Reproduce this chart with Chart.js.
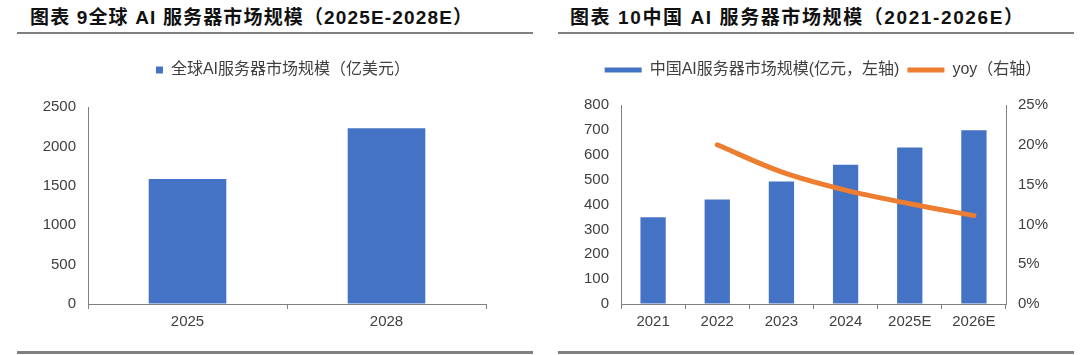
<!DOCTYPE html>
<html>
<head>
<meta charset="utf-8">
<script src="https://cdn.jsdelivr.net/npm/chart.js@4.4.0/dist/chart.umd.min.js"></script>
<style>
  html, body { margin:0; padding:0; background:#fff; width:1080px; height:355px; overflow:hidden; }
  .title { position:absolute; top:6px; font-family:"Liberation Sans","Noto Sans CJK SC",sans-serif; font-weight:bold; font-size:19px; letter-spacing:1.5px; color:#111; white-space:nowrap; line-height:24px; }
  .rule { position:absolute; background:#808080; }
  .box { position:absolute; top:45px; width:540px; height:300px; }
</style>
</head>
<body>
<div class="title" style="left:30px; letter-spacing:1.15px">图表 9全球 AI 服务器市场规模（2025E-2028E）</div>
<div class="title" style="left:570px; letter-spacing:1.6px">图表 10中国 AI 服务器市场规模（2021-2026E）</div>
<div class="rule" style="left:17px; width:516px; top:32px; height:2px"></div>
<div class="rule" style="left:558px; width:516px; top:32px; height:2px"></div>
<div class="rule" style="left:17px; width:516px; top:351px; height:3px"></div>
<div class="rule" style="left:558px; width:516px; top:351px; height:3px"></div>
<div class="box" style="left:0"><canvas id="c1" width="540" height="300"></canvas></div>
<div class="box" style="left:540px"><canvas id="c2" width="540" height="300"></canvas></div>
<script>
// ---- data ----
const globalYears = ["2025", "2028"];
const globalMarket = [1585, 2230];
const globalLabel = "全球AI服务器市场规模（亿美元）";

const chinaYears = ["2021", "2022", "2023", "2024", "2025E", "2026E"];
const chinaMarket = [349, 420, 492, 560, 629, 698];
const chinaYoy = [null, 20.0, 16.6, 14.3, 12.6, 11.1];
const chinaBarLabel = "中国AI服务器市场规模(亿元，左轴)";
const chinaLineLabel = "yoy（右轴）";

const BLUE = "#4472C4";
const ORANGE = "#ED7D31";
const AXIS = "#808080";
const TXT = "#404040";
const FONT = '"Liberation Sans","Noto Sans CJK SC",sans-serif';

Chart.defaults.font.family = FONT;
Chart.defaults.color = TXT;
Chart.defaults.animation = false;

// legend layout helper: extra height below legend and horizontal shift
function legendTweak(extraH, dx) {
  return {
    id: "legendTweak",
    beforeInit(chart) {
      const lg = chart.legend;
      const fit = lg.fit;
      lg.fit = function () { fit.call(this); this.height += extraH; };
    },
    afterLayout(chart) {
      chart.legend.left += dx; chart.legend.right += dx;
    }
  };
}

function xAxis() {
  return {
    offset: true,
    grid: { offset: true, drawOnChartArea: false, drawTicks: true, tickLength: 5, color: AXIS },
    border: { display: true, color: AXIS, width: 1 },
    ticks: { font: { size: 15 }, color: TXT, padding: 4 }
  };
}

// ---- chart 1 ----
new Chart(document.getElementById("c1"), {
  type: "bar",
  data: {
    labels: globalYears,
    datasets: [{ label: globalLabel, data: globalMarket, backgroundColor: BLUE,
                 categoryPercentage: 1, barPercentage: 0.39 }]
  },
  options: {
    responsive: false,
    layout: { padding: { left: 0, right: 54, top: 5, bottom: 10 } },
    plugins: {
      tooltip: { enabled: false },
      legend: {
        position: "top",
        labels: { boxWidth: 7, boxHeight: 7, font: { size: 16 }, color: TXT, padding: 12 }
      }
    },
    scales: {
      x: xAxis(),
      y: {
        min: 0, max: 2500,
        ticks: { stepSize: 500, font: { size: 15 }, color: TXT, padding: 12, callback: (v) => String(v) },
        grid: { drawOnChartArea: false, drawTicks: false },
        border: { display: true, color: AXIS, width: 1 },
        afterFit: (s) => { s.width = 88; }
      }
    }
  },
  plugins: [legendTweak(19, 40)]
});

// ---- chart 2 ----
new Chart(document.getElementById("c2"), {
  type: "bar",
  data: {
    labels: chinaYears,
    datasets: [
      { type: "bar", label: chinaBarLabel, data: chinaMarket, backgroundColor: BLUE,
        categoryPercentage: 1, barPercentage: 0.394, yAxisID: "y", order: 2 },
      { type: "line", label: chinaLineLabel, data: chinaYoy, borderColor: ORANGE, backgroundColor: ORANGE,
        borderWidth: 5, pointRadius: 0, tension: 0.35, yAxisID: "y1", order: 1, borderCapStyle: "round" }
    ]
  },
  options: {
    responsive: false,
    layout: { padding: { left: 0, right: 0, top: 9, bottom: 10 } },
    plugins: {
      tooltip: { enabled: false },
      legend: {
        position: "top",
        labels: {
          boxWidth: 37, boxHeight: 5, font: { size: 16 }, color: TXT, padding: 8,
          sort: (a, b) => a.datasetIndex - b.datasetIndex,
          generateLabels: (chart) => {
            const items = Chart.defaults.plugins.legend.labels.generateLabels(chart);
            items.forEach(it => { const ds = chart.data.datasets[it.datasetIndex];
              it.fillStyle = ds.type === "line" ? ds.borderColor : ds.backgroundColor;
              it.lineWidth = 0; it.strokeStyle = "rgba(0,0,0,0)"; });
            return items;
          }
        }
      }
    },
    scales: {
      x: xAxis(),
      y: {
        position: "left", min: 0, max: 800,
        ticks: { stepSize: 100, font: { size: 15 }, color: TXT, padding: 12 },
        grid: { drawOnChartArea: false, drawTicks: false },
        border: { display: true, color: AXIS, width: 1 },
        afterFit: (s) => { s.width = 81; }
      },
      y1: {
        position: "right", min: 0, max: 25,
        ticks: { stepSize: 5, font: { size: 15 }, color: TXT, padding: 12, callback: (v) => v + "%" },
        grid: { drawOnChartArea: false, drawTicks: false },
        border: { display: true, color: AXIS, width: 1 },
        afterFit: (s) => { s.width = 74; }
      }
    }
  },
  plugins: [legendTweak(17, 13)]
});
</script>
</body>
</html>
